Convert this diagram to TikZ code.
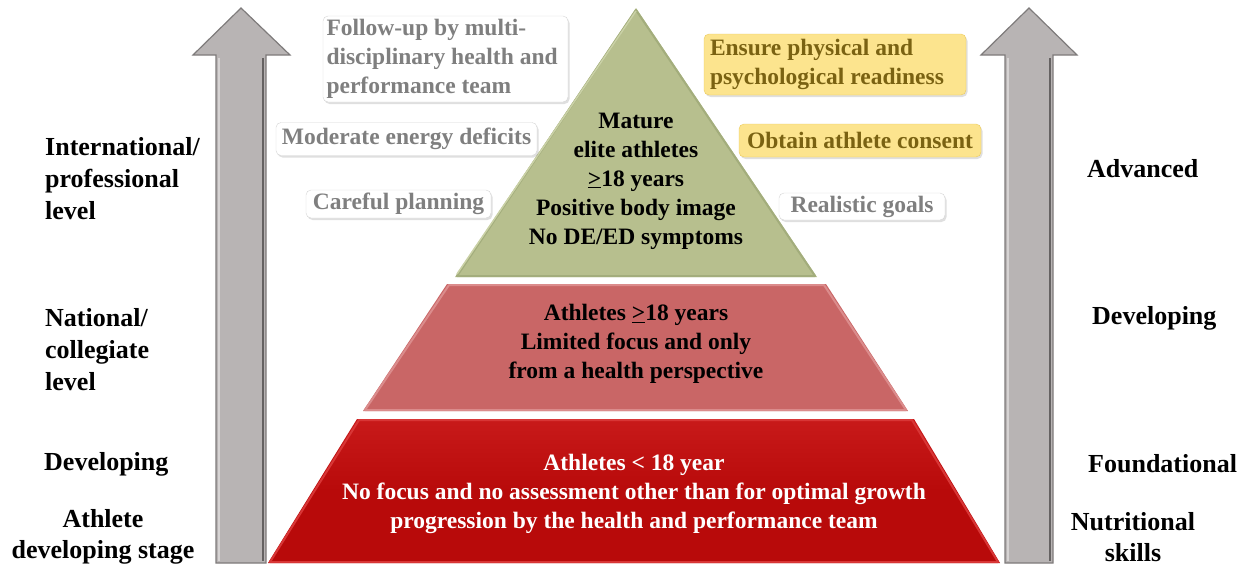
\documentclass[tikz,border=0pt]{standalone}
\usepackage{fontspec}
\setmainfont{Liberation Serif}
\usetikzlibrary{shadows}

\definecolor{arrowgray}{HTML}{B8B4B4}
\definecolor{arrowedge}{HTML}{7E7B7B}
\definecolor{arrowlight}{HTML}{D6D3D3}
\definecolor{tipgreen}{HTML}{B7BF8E}
\definecolor{tipedge}{HTML}{A3AD7C}
\definecolor{tiplight}{HTML}{CAD1A6}
\definecolor{midred}{HTML}{C96666}
\definecolor{midlight}{HTML}{DB8C8C}
\definecolor{basered}{HTML}{B80A0A}
\definecolor{basetop}{HTML}{C81A1A}
\definecolor{baselight}{HTML}{D83636}
\definecolor{notegray}{HTML}{7F7F7F}
\definecolor{noteedge}{HTML}{D5D5D5}
\definecolor{noteyellow}{HTML}{FCE48E}
\definecolor{noteyedge}{HTML}{EBCB5E}
\definecolor{notebrown}{HTML}{7A6212}

\tikzset{
  x=1pt, y=-1pt,
  sidelabel/.style={font=\fontsize{26}{32}\selectfont\bfseries, inner sep=0pt, align=left, anchor=west},
  sidecentre/.style={font=\fontsize{26}{31}\selectfont\bfseries, inner sep=0pt, align=center},
  tiertext/.style={font=\fontsize{23.5}{29}\selectfont\bfseries, inner sep=0pt, align=center},
  arrowbody/.style={fill=arrowgray, draw=arrowedge, line width=1.2pt, line join=miter},
  notebox/.style={draw=noteedge, fill=white, rounded corners=5pt, text=notegray,
    font=\fontsize{23.5}{29}\selectfont\bfseries, inner sep=0pt, align=center,
    drop shadow={opacity=0.25, shadow xshift=1.5pt, shadow yshift=-2pt}},
  yellowbox/.style={notebox, draw=noteyedge, fill=noteyellow, text=notebrown},
}

\begin{document}
\begin{tikzpicture}
\useasboundingbox (0,0) rectangle (1251,565);

% upward arrows on both sides
\draw[arrowbody] (216,563) -- (216,55) -- (193,55) -- (241,8) -- (290,55) -- (266,55) -- (266,563) -- cycle;
\draw[arrowlight, line width=2pt] (219,561) -- (219,58);
\draw[arrowedge!80!black, line width=2.5pt] (263,561) -- (263,58);
\draw[arrowbody] (1005,563) -- (1005,55) -- (981,55) -- (1029,8) -- (1077,55) -- (1053,55) -- (1053,563) -- cycle;
\draw[arrowlight, line width=2pt] (1008,561) -- (1008,58);
\draw[arrowedge!80!black, line width=2.5pt] (1050,561) -- (1050,58);

% pyramid tiers
\fill[tipgreen] (636,8) -- (817,277) -- (455,277) -- cycle;
\draw[tipedge, line width=2pt, line join=round] (636,10) -- (815,276) -- (457,276) -- cycle;
\draw[tiplight, line width=1.5pt] (457,274) -- (636,11);

\fill[midred] (447,284) -- (826,284) -- (908,411) -- (363,411) -- cycle;
\draw[midlight, line width=2pt, line join=round] (449,285) -- (824,285) -- (906,410) -- (365,410) -- cycle;

\shade[top color=basetop, bottom color=basered, middle color=basered]
  (357,419) -- (914,419) -- (1000,563) -- (268,563) -- cycle;
\draw[baselight, line width=2pt, line join=round] (359,420) -- (912,420) -- (998,562) -- (270,562) -- cycle;

% tier texts
\node[tiertext] (tiptext) at (636,181) {Mature\\elite athletes\\\underline{>}18 years\\Positive body image\\No DE/ED symptoms};
\node[tiertext] (midtext) at (636,344) {Athletes \underline{>}18 years\\Limited focus and only\\from a health perspective};
\node[tiertext, text=white] (basetext) at (634,494) {Athletes < 18 year\\No focus and no assessment other than for optimal growth\\progression by the health and performance team};

% level labels, left
\node[sidelabel] (intl) at (45,179) {International/\\professional\\level};
\node[sidelabel] (natl) at (45,350) {National/\\collegiate\\level};
\node[sidelabel] (devl) at (44,464) {Developing};
\node[sidecentre] (stage) at (103,537) {Athlete\\developing stage};

% level labels, right
\node[sidelabel] (adv) at (1087,169) {Advanced};
\node[sidelabel] (devr) at (1092,318) {Developing};
\node[sidelabel] (found) at (1088,464) {Foundational};
\node[sidecentre] (skills) at (1133,537) {Nutritional\\skills};

% notes around the apex
\node[notebox, minimum width=245, minimum height=86, text width=238, align=flush left] (followup) at (445.5,59)
  {Follow-up by multi-\\disciplinary health and\\performance team};
\node[notebox, minimum width=261, minimum height=33] (deficit) at (406.5,139) {Moderate energy deficits};
\node[notebox, minimum width=185, minimum height=28] (planning) at (398.5,204) {Careful planning};
\node[yellowbox, minimum width=262, minimum height=61, text width=250, align=flush left] (ready) at (835,64.5)
  {Ensure physical and\\psychological readiness};
\node[yellowbox, minimum width=242, minimum height=33] (consent) at (860,140.5) {Obtain athlete consent};
\node[notebox, minimum width=166, minimum height=27] (goals) at (862,206.5) {Realistic goals};
\end{tikzpicture}
\end{document}
